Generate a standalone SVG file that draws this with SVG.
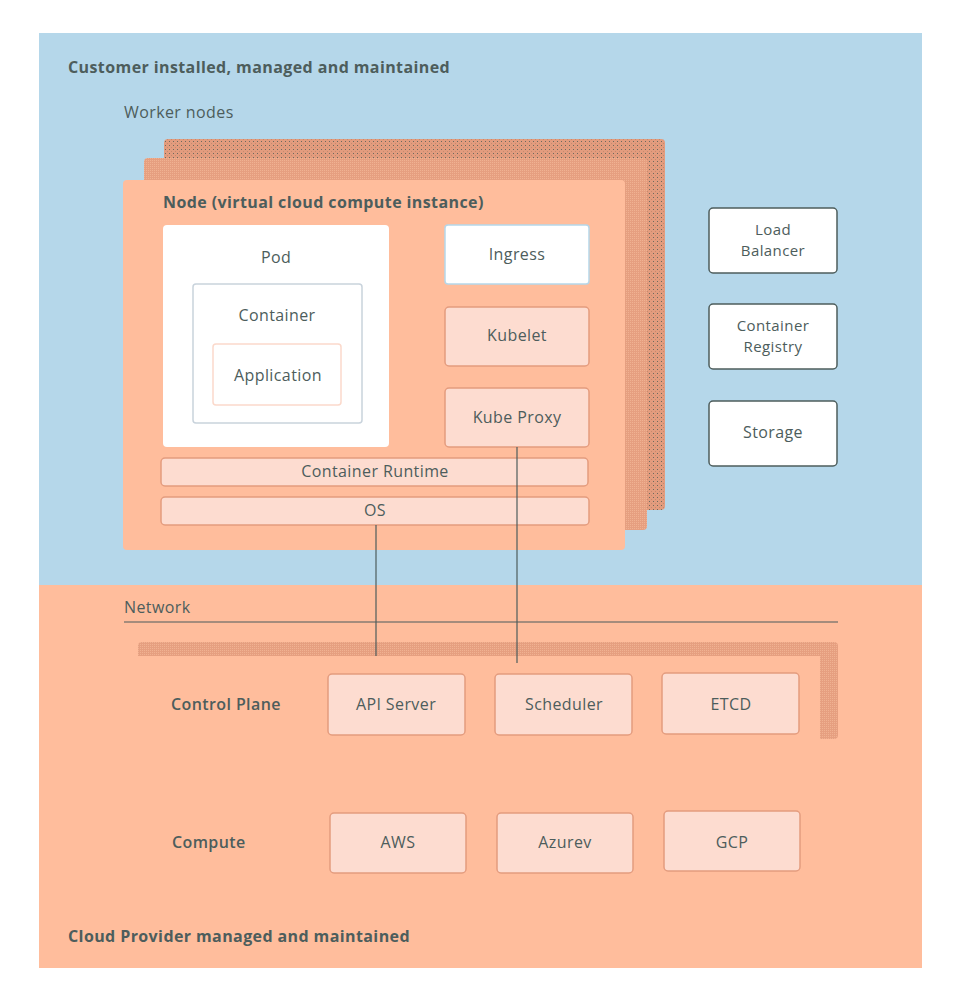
<svg xmlns="http://www.w3.org/2000/svg" width="958" height="1000" viewBox="0 0 958 1000">
<defs>
<pattern id="dots" width="4" height="4" patternUnits="userSpaceOnUse">
<rect width="4" height="4" fill="#e39c7e"/>
<rect x="1" y="1" width="1" height="1" fill="#6f6a5e"/>
<rect x="3" y="3" width="1" height="1" fill="#c78a6d"/>
</pattern>
<pattern id="dots2" width="2" height="2" patternUnits="userSpaceOnUse">
<rect width="2" height="2" fill="#e69f80"/>
<rect x="0" y="0" width="1" height="1" fill="#f0b292"/>
</pattern>
</defs>
<style>
text{font-family:"Open Sans","Liberation Sans",sans-serif;fill:#4d5d5c;font-size:16px;letter-spacing:0.4px}
.b{font-weight:700}
.s{font-weight:600}
.c{text-anchor:middle}
.m{font-size:15px}
.lt{fill:#fddcd0;stroke:#e49c7e;stroke-width:1.5}
.wh{fill:#ffffff;stroke:#4d5d5c;stroke-width:1.5}
.conn{stroke:#4d5d5c;stroke-width:1.2;fill:none}
</style>
<rect width="958" height="1000" fill="#ffffff"/>
<g id="customer-zone">
<rect x="39" y="33" width="883" height="552" fill="#b5d7ea"/>
<text x="68" y="73" class="b">Customer installed, managed and maintained</text>
<text x="124" y="118">Worker nodes</text>
</g>
<g id="provider-zone">
<rect x="39" y="585" width="883" height="383" fill="#ffbd9c"/>
<text x="68" y="942" class="b">Cloud Provider managed and maintained</text>
</g>
<g id="node-stack">
<rect x="164" y="139" width="501" height="371" rx="4" fill="url(#dots)"/>
<rect x="144" y="158" width="503" height="372" rx="4" fill="url(#dots2)"/>
</g>
<g id="node">
<rect x="123" y="180" width="502" height="370" rx="4" fill="#ffbd9c"/>
<text x="163" y="208" class="b">Node (virtual cloud compute instance)</text>
</g>
<g id="pod">
<rect x="163" y="225" width="226" height="222" rx="4" fill="#ffffff"/>
<text x="276" y="263" class="c">Pod</text>
</g>
<g id="container">
<rect x="193" y="284" width="169" height="139" rx="3" fill="#ffffff" stroke="#c9d3dc" stroke-width="1.5"/>
<text x="277" y="321" class="c">Container</text>
</g>
<g id="application">
<rect x="213" y="344" width="128" height="61" rx="3" fill="#ffffff" stroke="#fbd9cb" stroke-width="1.5"/>
<text x="278" y="381" class="c">Application</text>
</g>
<g id="ingress">
<rect x="445" y="225" width="144" height="59" rx="3" fill="#ffffff" stroke="#b5d7ea" stroke-width="1.5"/>
<text x="517" y="260" class="c">Ingress</text>
</g>
<g id="kubelet">
<rect x="445" y="307" width="144" height="59" rx="4" class="lt"/>
<text x="517" y="341" class="c">Kubelet</text>
</g>
<g id="kube-proxy">
<rect x="445" y="388" width="144" height="59" rx="4" class="lt"/>
<text x="517" y="423" class="c">Kube Proxy</text>
</g>
<g id="container-runtime">
<rect x="161" y="458" width="427" height="28" rx="4" class="lt"/>
<text x="375" y="477" class="c">Container Runtime</text>
</g>
<g id="os">
<rect x="161" y="497" width="428" height="28" rx="4" class="lt"/>
<text x="375" y="516" class="c">OS</text>
</g>
<g id="load-balancer">
<rect x="709" y="208" width="128" height="65" rx="4" class="wh"/>
<text x="773" y="235" class="c m">Load</text>
<text x="773" y="256" class="c m">Balancer</text>
</g>
<g id="container-registry">
<rect x="709" y="304" width="128" height="65" rx="4" class="wh"/>
<text x="773" y="331" class="c m">Container</text>
<text x="773" y="352" class="c m">Registry</text>
</g>
<g id="storage">
<rect x="709" y="401" width="128" height="65" rx="4" class="wh"/>
<text x="773" y="438" class="c">Storage</text>
</g>
<g id="network">
<text x="124" y="613">Network</text>
<line x1="124" y1="622" x2="838" y2="622" stroke="#4d5d5c" stroke-width="1.2"/>
</g>
<g id="control-plane">
<rect x="138" y="642" width="700" height="97" rx="4" fill="url(#dots2)"/>
<rect x="124" y="656" width="696" height="100" fill="#ffbd9c"/>
<text x="171" y="710" class="s">Control Plane</text>
</g>
<g id="compute">
<text x="172" y="848" class="s">Compute</text>
</g>
<g id="api-server">
<rect x="328" y="674" width="137" height="61" rx="4" class="lt"/>
<text x="396" y="710" class="c">API Server</text>
</g>
<g id="scheduler">
<rect x="495" y="674" width="137" height="61" rx="4" class="lt"/>
<text x="564" y="710" class="c">Scheduler</text>
</g>
<g id="etcd">
<rect x="662" y="673" width="137" height="61" rx="4" class="lt"/>
<text x="731" y="710" class="c">ETCD</text>
</g>
<g id="aws">
<rect x="330" y="813" width="136" height="60" rx="4" class="lt"/>
<text x="398" y="848" class="c">AWS</text>
</g>
<g id="azurev">
<rect x="497" y="813" width="136" height="60" rx="4" class="lt"/>
<text x="565" y="848" class="c">Azurev</text>
</g>
<g id="gcp">
<rect x="664" y="811" width="136" height="60" rx="4" class="lt"/>
<text x="732" y="848" class="c">GCP</text>
</g>
<g id="connectors">
<line x1="376" y1="525" x2="376" y2="656" class="conn"/>
<line x1="517" y1="447" x2="517" y2="663" class="conn"/>
</g>
</svg>
